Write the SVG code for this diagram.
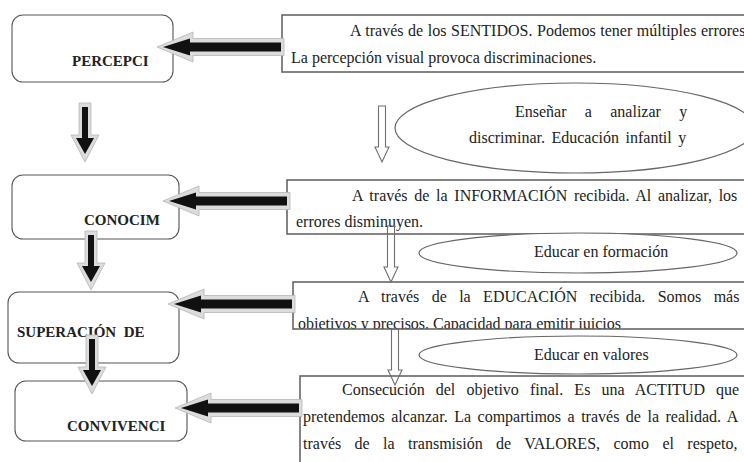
<svg xmlns="http://www.w3.org/2000/svg" width="744" height="462" viewBox="0 0 744 462">
<style>
.rb{fill:#fff;stroke:#555;stroke-width:1.1}
.tb{fill:#fff;stroke:#666;stroke-width:1.6}
.el{fill:#fff;stroke:#666;stroke-width:1.2}
.lb{font-family:"Liberation Serif","Times New Roman",serif;font-weight:bold;font-size:15px;fill:#222}
.tx{font-family:"Liberation Serif","Times New Roman",serif;font-size:16px;fill:#222}
.halo{fill:#dcdcdc;stroke:#b5b5b5;stroke-width:0.8}
.blk{fill:#111}
.hol{fill:none;stroke:#6f6f6f;stroke-width:1.1}
</style>
<defs>
<g id="la">
<path class="halo" d="M0,0 L36,-15 L36,-8.5 L127,-8.5 L127,8.5 L36,8.5 L36,15 Z"/>
<path class="blk" d="M6,0 L33,-8.5 L33,-4.5 L124,-4.5 L124,4.5 L33,4.5 L33,8.5 Z"/>
</g>
<g id="da">
<path class="halo" d="M-6,-59 L6,-59 L6,-27 L14,-27 L0,0 L-14,-27 L-6,-27 Z"/>
<path class="blk" d="M-3,-55 L3,-55 L3,-24 L9,-24 L0,-8 L-9,-24 L-3,-24 Z"/>
</g>
<path id="ha" class="hol" d="M-3.5,-56 L3.5,-56 L3.5,-15 L7,-15 L0,0 L-7,-15 L-3.5,-15 Z"/>
<clipPath id="c3"><rect x="293" y="282" width="460" height="46.5"/></clipPath>
</defs>

<g id="percepcion">
<rect class="rb" x="12" y="15" width="161" height="67" rx="11"/>
<text class="lb" x="72" y="66">PERCEPCI</text>
</g>
<g id="conocimiento">
<rect class="rb" x="12" y="175" width="167" height="64" rx="11"/>
<text class="lb" x="84" y="225">CONOCIM</text>
</g>
<g id="superacion">
<rect class="rb" x="8" y="292" width="171" height="71" rx="11"/>
<text class="lb" x="17" y="337" xml:space="preserve">SUPERACIÓN  DE</text>
</g>
<g id="convivencia">
<rect class="rb" x="15" y="381" width="172" height="60" rx="11"/>
<text class="lb" x="67" y="431">CONVIVENCI</text>
</g>

<g id="sentidos">
<rect class="tb" x="282" y="15" width="480" height="57"/>
<text class="tx" x="350" y="36" style="word-spacing:0.6px">A través de los SENTIDOS. Podemos tener múltiples errores</text>
<text class="tx" x="291" y="63">La percepción visual provoca discriminaciones.</text>
</g>
<g id="informacion">
<rect class="tb" x="287" y="180" width="480" height="54"/>
<text class="tx" x="352" y="201" style="word-spacing:2.7px">A través de la INFORMACIÓN recibida. Al analizar, los</text>
<text class="tx" x="296" y="227">errores disminuyen.</text>
</g>
<g id="educacion">
<rect class="tb" x="293" y="282" width="480" height="47"/>
<g clip-path="url(#c3)">
<text class="tx" x="358" y="302" style="word-spacing:8.4px">A través de la EDUCACIÓN recibida. Somos más</text>
<text class="tx" x="298" y="329">objetivos y precisos. Capacidad para emitir juicios</text>
</g>
</g>
<g id="actitud">
<rect class="tb" x="300" y="376" width="480" height="100"/>
<text class="tx" x="342" y="395" style="word-spacing:7.1px">Consecución del objetivo final. Es una ACTITUD que</text>
<text class="tx" x="303" y="422" style="word-spacing:2.5px">pretendemos alcanzar. La compartimos a través de la realidad. A</text>
<text class="tx" x="303" y="449" style="word-spacing:9.4px">través de la transmisión de VALORES, como el respeto,</text>
</g>

<g id="ensenar">
<ellipse class="el" cx="575" cy="128" rx="180" ry="45"/>
<text class="tx" x="515" y="117" style="word-spacing:14.3px">Enseñar a analizar y</text>
<text class="tx" x="469" y="143" style="word-spacing:2.5px">discriminar. Educación infantil y</text>
</g>
<g id="formacion">
<ellipse class="el" cx="578" cy="253" rx="159" ry="20"/>
<text class="tx" x="534" y="257">Educar en formación</text>
</g>
<g id="valores">
<ellipse class="el" cx="578" cy="355" rx="159" ry="19"/>
<text class="tx" x="534" y="360">Educar en valores</text>
</g>

<g id="connectors">
<use href="#la" transform="translate(157,47)"/>
<use href="#la" transform="translate(163,201)"/>
<use href="#la" transform="translate(168,304)"/>
<use href="#la" transform="translate(175,408)"/>
<use href="#da" transform="translate(85,162)"/>
<use href="#da" transform="translate(91,290)"/>
<use href="#da" transform="translate(92,394)"/>
<use href="#ha" transform="translate(382,162)"/>
<use href="#ha" transform="translate(391,282)"/>
<use href="#ha" transform="translate(395,385)"/>
</g>
</svg>
